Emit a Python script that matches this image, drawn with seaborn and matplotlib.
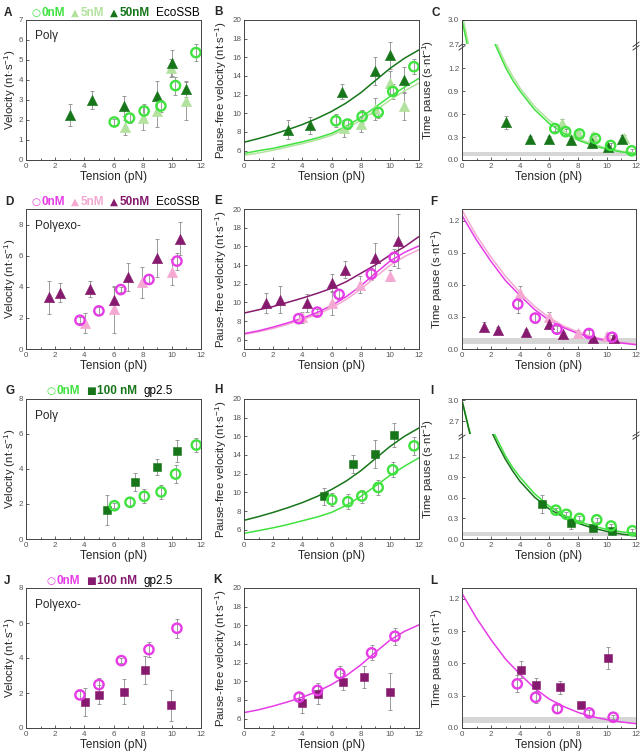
import matplotlib
matplotlib.use("Agg")
import matplotlib.pyplot as plt
import seaborn as sns
from matplotlib.ticker import MultipleLocator, FormatStrFormatter, FixedLocator
from matplotlib.offsetbox import TextArea, HPacker, AnnotationBbox

# ---------------- data ----------------
fit_x = [0, 1, 2, 3, 4, 5, 6, 7, 8, 9, 10, 11, 12]
dec_x = [0, 0.5, 1, 1.5, 2, 2.5, 3, 3.5, 4, 5, 6, 7, 8, 9, 10, 11, 12]

# A: Pol gamma velocity with EcoSSB
A_x0 = [6.05, 7.1, 8.1, 9.25, 10.25, 11.65]
A_y0 = [1.9, 2.1, 2.45, 2.7, 3.72, 5.37]
A_e0 = [0.15, 0.25, 0.35, 0.3, 0.45, 0.42]
A_x5 = [6.8, 8.0, 9.0, 9.95, 11.0]
A_y5 = [1.63, 2.12, 2.45, 4.58, 2.95]
A_e5 = [0.38, 0.6, 0.8, 0.45, 0.95]
A_x50 = [3.0, 4.55, 6.75, 9.0, 10.0, 11.0]
A_y50 = [2.25, 3.0, 2.7, 3.2, 4.83, 3.53]
A_e50 = [0.55, 0.45, 0.5, 0.75, 0.65, 0.4]

# B: pause-free velocity
B_x0 = [6.3, 7.1, 8.1, 9.2, 10.2, 11.65]
B_y0 = [9.2, 8.85, 9.65, 10.1, 12.35, 15.0]
B_e0 = [0.7, 0.5, 0.7, 0.6, 0.8, 0.8]
B_x5 = [6.85, 8.0, 9.0, 10.0, 11.0]
B_y5 = [8.4, 8.85, 10.45, 13.3, 10.8]
B_e5 = [0.9, 0.9, 1.2, 1.2, 1.5]
B_x50 = [3.0, 4.5, 6.7, 8.95, 10.0, 11.0]
B_y50 = [8.25, 8.7, 12.3, 14.5, 16.2, 13.6]
B_e50 = [1.0, 0.9, 0.8, 1.5, 1.4, 1.4]
B_fit0 = [5.7, 6.0, 6.25, 6.6, 6.95, 7.35, 7.85, 8.6, 9.55, 10.65, 11.8, 12.8, 13.75]
B_fit5 = [5.5, 5.75, 6.05, 6.4, 6.75, 7.15, 7.65, 8.35, 9.25, 10.3, 11.4, 12.4, 13.25]
B_fit50 = [6.9, 7.3, 7.75, 8.25, 8.8, 9.45, 10.2, 11.1, 12.2, 13.5, 14.8, 15.9, 16.8]

# C: time pause
C_x0 = [6.4, 7.15, 8.1, 9.2, 10.25, 11.7]
C_y0 = [0.41, 0.37, 0.34, 0.28, 0.19, 0.12]
C_e0 = [0.03, 0.03, 0.03, 0.03, 0.03, 0.02]
C_x5 = [6.9, 8.0, 9.05, 10.05, 11.2]
C_y5 = [0.48, 0.35, 0.31, 0.17, 0.29]
C_e5 = [0.05, 0.04, 0.04, 0.03, 0.04]
C_x50 = [3.0, 4.7, 6.0, 7.5, 9.0, 10.05, 11.05]
C_y50 = [0.49, 0.28, 0.28, 0.26, 0.22, 0.17, 0.27]
C_e50 = [0.09, 0.03, 0.03, 0.03, 0.03, 0.03, 0.05]
C_fit0 = [3.0, 2.58, 2.21, 1.9, 1.63, 1.42, 1.21, 1.04, 0.9, 0.66, 0.48, 0.35, 0.26, 0.19, 0.14, 0.105, 0.08]
C_fit5 = [3.08, 2.66, 2.28, 1.96, 1.69, 1.47, 1.26, 1.09, 0.94, 0.70, 0.52, 0.38, 0.28, 0.21, 0.155, 0.115, 0.09]

# D: Pol gamma exo- velocity with EcoSSB
D_x0 = [3.7, 5.0, 6.5, 8.43, 10.35]
D_y0 = [1.85, 2.45, 3.82, 4.47, 5.65]
D_e0 = [0.2, 0.25, 0.15, 0.3, 0.55]
D_x5 = [4.05, 6.0, 7.93, 10.0]
D_y5 = [1.66, 2.56, 4.3, 4.95]
D_e5 = [0.65, 1.5, 1.0, 0.85]
D_x50 = [1.55, 2.33, 4.39, 6.03, 7.02, 8.98, 10.54]
D_y50 = [3.33, 3.63, 3.87, 3.16, 4.6, 5.85, 7.1]
D_e50 = [1.05, 0.6, 0.5, 0.85, 0.9, 1.2, 1.05]

# E: pause-free velocity exo-
E_x0 = [3.75, 5.02, 6.52, 8.73, 10.3]
E_y0 = [8.25, 8.95, 10.85, 13.03, 14.82]
E_e0 = [0.5, 0.3, 0.6, 0.6, 0.9]
E_x5 = [3.98, 6.0, 7.95, 10.0]
E_y5 = [8.39, 9.92, 11.88, 12.87]
E_e5 = [0.6, 1.3, 0.9, 0.6]
E_x50 = [1.49, 2.45, 4.3, 6.0, 6.94, 9.0, 10.53]
E_y50 = [9.92, 10.27, 9.92, 12.06, 13.48, 14.73, 16.58]
E_e50 = [1.1, 1.45, 1.0, 1.0, 0.9, 1.6, 2.9]
E_fit0 = [6.65, 6.95, 7.35, 7.8, 8.3, 8.9, 9.65, 10.6, 11.75, 13.1, 14.4, 15.35, 16.05]
E_fit5 = [6.55, 6.85, 7.2, 7.65, 8.15, 8.7, 9.4, 10.3, 11.4, 12.7, 13.95, 14.9, 15.65]
E_fit50 = [8.85, 9.2, 9.55, 10.0, 10.45, 10.95, 11.5, 12.2, 13.1, 14.0, 15.05, 15.95, 17.05]

# F: time pause exo-
F_x0 = [3.85, 5.05, 6.55, 8.75, 10.35]
F_y0 = [0.42, 0.29, 0.185, 0.145, 0.11]
F_e0 = [0.08, 0.05, 0.03, 0.03, 0.02]
F_x5 = [4.0, 6.0, 8.0, 10.0]
F_y5 = [0.52, 0.30, 0.15, 0.12]
F_e5 = [0.07, 0.05, 0.03, 0.03]
F_x50 = [1.55, 2.5, 4.4, 6.0, 7.0, 9.05, 10.5]
F_y50 = [0.21, 0.18, 0.16, 0.23, 0.14, 0.10, 0.10]
F_e50 = [0.04, 0.03, 0.03, 0.04, 0.02, 0.02, 0.02]
F_fit0 = [1.25, 1.02, 0.82, 0.64, 0.5, 0.37, 0.27, 0.2, 0.145, 0.105, 0.077, 0.056, 0.04]
F_fit5 = [1.3, 1.06, 0.86, 0.68, 0.53, 0.40, 0.295, 0.215, 0.16, 0.115, 0.085, 0.062, 0.045]

# G: Pol gamma velocity with gp2.5
G_x0 = [6.06, 7.13, 8.11, 9.26, 10.26, 11.68]
G_y0 = [1.9, 2.1, 2.44, 2.69, 3.71, 5.37]
G_e0 = [0.15, 0.25, 0.4, 0.4, 0.5, 0.42]
G_x100 = [5.58, 7.47, 9.0, 10.33]
G_y100 = [1.66, 3.28, 4.13, 5.03]
G_e100 = [0.87, 0.52, 0.45, 0.65]

# H: pause-free velocity with gp2.5
H_x0 = [6.02, 7.12, 8.08, 9.2, 10.19, 11.66]
H_y0 = [9.2, 8.99, 9.6, 10.52, 12.41, 14.98]
H_e0 = [0.7, 0.8, 0.7, 0.8, 0.8, 1.0]
H_x100 = [5.5, 7.44, 8.95, 10.28]
H_y100 = [9.56, 13.02, 14.16, 16.15]
H_e100 = [0.9, 1.0, 1.5, 1.3]
H_fit0 = [5.6, 5.9, 6.2, 6.55, 6.95, 7.35, 7.85, 8.6, 9.55, 10.65, 11.8, 12.8, 13.7]
H_fit100 = [7.0, 7.4, 7.85, 8.35, 8.9, 9.55, 10.3, 11.2, 12.3, 13.6, 14.9, 16.0, 16.9]

# I: time pause with gp2.5
I_x0 = [6.47, 7.2, 8.1, 9.29, 10.28, 11.75]
I_y0 = [0.42, 0.36, 0.30, 0.28, 0.19, 0.12]
I_e0 = [0.03, 0.03, 0.03, 0.03, 0.03, 0.02]
I_x100 = [5.53, 7.5, 9.06, 10.37]
I_y100 = [0.505, 0.23, 0.155, 0.117]
I_e100 = [0.13, 0.08, 0.03, 0.02]
I_fit0 = [3.0, 2.58, 2.21, 1.9, 1.63, 1.42, 1.21, 1.04, 0.9, 0.66, 0.48, 0.35, 0.26, 0.19, 0.14, 0.105, 0.08]
I_fit100 = [3.0, 2.56, 2.18, 1.86, 1.58, 1.36, 1.16, 0.99, 0.84, 0.61, 0.44, 0.32, 0.23, 0.16, 0.11, 0.07, 0.045]

# J: Pol gamma exo- velocity with gp2.5
J_x0 = [3.7, 5.0, 6.54, 8.43, 10.35]
J_y0 = [1.89, 2.48, 3.85, 4.48, 5.7]
J_e0 = [0.25, 0.4, 0.15, 0.45, 0.55]
J_x100 = [4.05, 5.0, 6.72, 8.16, 9.97]
J_y100 = [1.5, 1.9, 2.08, 3.31, 1.3]
J_e100 = [0.8, 0.55, 0.7, 0.8, 0.9]

# K: pause-free velocity exo- with gp2.5
K_x0 = [3.78, 5.04, 6.57, 8.75, 10.35]
K_y0 = [8.31, 9.03, 10.84, 13.05, 14.83]
K_e0 = [0.5, 0.6, 0.75, 0.8, 0.9]
K_x100 = [4.0, 5.04, 6.76, 8.22, 10.03]
K_y100 = [7.64, 8.67, 9.95, 10.45, 8.88]
K_e100 = [1.0, 1.1, 0.9, 1.2, 2.0]
K_fit0 = [6.65, 6.95, 7.35, 7.8, 8.3, 8.9, 9.65, 10.6, 11.75, 13.1, 14.4, 15.35, 16.05]

# L: time pause exo- with gp2.5
L_x0 = [3.81, 5.08, 6.58, 8.77, 10.43]
L_y0 = [0.41, 0.285, 0.18, 0.14, 0.10]
L_e0 = [0.08, 0.05, 0.03, 0.03, 0.02]
L_x100 = [4.06, 5.08, 6.74, 8.22, 10.09]
L_y100 = [0.54, 0.40, 0.38, 0.21, 0.65]
L_e100 = [0.08, 0.06, 0.06, 0.02, 0.1]
L_fit0 = [1.25, 1.02, 0.82, 0.64, 0.5, 0.37, 0.27, 0.2, 0.145, 0.105, 0.077, 0.056, 0.04]

band = (0.05, 0.105)

# ---------------- style ----------------
LIME = "#3fe23f"
PALE = "#b3e29f"
DKG = "#17761a"
MAG = "#e63ce6"
PINK = "#f5a8d2"
PUR = "#861a6e"
ECOL = "#8c8c8c"

sns.set_style("ticks")
plt.rcParams["font.family"] = ["Liberation Sans Narrow", "Liberation Sans", "DejaVu Sans"]
plt.rcParams["mathtext.fontset"] = "custom"
plt.rcParams["mathtext.rm"] = "Liberation Sans"
plt.rcParams["mathtext.it"] = "Liberation Sans:italic"
plt.rcParams["mathtext.bf"] = "Liberation Sans:bold"

W, H = 642, 756
fig = plt.figure(figsize=(W / 100, H / 100), dpi=100)

cols = [(26, 201), (244, 419), (462, 636)]
rows = [(20, 160), (209, 349), (399, 539), (588, 728)]

S_TRI, S_CIR, S_SQ = 55, 45, 40
LFS = 8.2


def rect(c, r):
    x0, x1 = cols[c]
    y0, y1 = rows[r]
    return [x0 / W, 1 - y1 / H, (x1 - x0) / W, (y1 - y0) / H]


def style(ax, ylim, yticks, fmt, xlabel=True):
    ax.set_xlim(0, 12)
    ax.xaxis.set_major_locator(MultipleLocator(2))
    ax.xaxis.set_minor_locator(MultipleLocator(1))
    ax.set_ylim(*ylim)
    ax.yaxis.set_major_locator(FixedLocator(yticks))
    ax.yaxis.set_major_formatter(FormatStrFormatter(fmt))
    ax.tick_params(which="both", direction="in", top=False, right=False,
                   labelsize=5.8, labelcolor="#555555", color="#444444",
                   pad=2, width=0.6)
    ax.tick_params(which="major", length=2.5)
    ax.tick_params(which="minor", length=1.3)
    for s in ax.spines.values():
        s.set_linewidth(0.7)
        s.set_color("#444444")
    if xlabel:
        ax.set_xlabel("Tension (pN)", fontsize=8.5, labelpad=1)
    else:
        ax.set_xlabel("")


def pts(ax, x, y, e, marker, color, s, open_=False):
    ax.errorbar(x, y, yerr=e, fmt="none", ecolor=ECOL, elinewidth=0.6,
                capsize=1.3, capthick=0.6, zorder=2)
    if open_:
        sns.scatterplot(x=x, y=y, ax=ax, marker=marker, s=s, facecolor="none",
                        edgecolor=color, linewidth=1.7, zorder=4)
    else:
        sns.scatterplot(x=x, y=y, ax=ax, marker=marker, s=s, color=color,
                        edgecolor=color, linewidth=0.4, zorder=3)


def fit(ax, x, y, color):
    sns.lineplot(x=x, y=y, ax=ax, color=color, linewidth=1.1, zorder=2.5)


def letter(px, py, t):
    fig.text(px / W, 1 - py / H, t, fontsize=8.5, fontweight="bold",
             family=["Liberation Sans", "DejaVu Sans"], va="center", ha="left")


def legend_row(px, py, pieces):
    groups = []
    for sym, txt, c, w in pieces:
        items = []
        if sym:
            items.append(TextArea(sym, textprops=dict(color=c, fontsize=7.5,
                                                      family="DejaVu Sans")))
        items.append(TextArea(txt, textprops=dict(color=c, fontsize=8.5, fontweight=w,
                                                  family=["Liberation Sans", "DejaVu Sans"])))
        groups.append(HPacker(children=items, align="baseline", pad=0, sep=1))
    hp = HPacker(children=groups, align="baseline", pad=0, sep=4.5)
    ab = AnnotationBbox(hp, (px, H - py), xycoords="figure pixels",
                        box_alignment=(0, 0.5), frameon=False, annotation_clip=False)
    fig.add_artist(ab)


VEL = "Velocity (nt·s$^{-1}$)"
PFV = "Pause-free velocity (nt·s$^{-1}$)"
TP = "Time pause (s·nt$^{-1}$)"


def ylab(ax, t, pad=2):
    ax.set_ylabel(t, fontsize=LFS, labelpad=pad)


def broken(c, r, frac_up, up_lim, low_lim):
    l, b, w, h = rect(c, r)
    hu = h * frac_up
    ax_low = fig.add_axes([l, b, w, h - hu])
    ax_up = fig.add_axes([l, b + h - hu, w, hu])
    style(ax_low, low_lim, [0, 0.3, 0.6, 0.9, 1.2], "%.1f")
    style(ax_up, up_lim, [2.7, 3.0], "%.1f", xlabel=False)
    ax_up.spines["bottom"].set_visible(False)
    ax_low.spines["top"].set_visible(False)
    ax_up.tick_params(which="both", bottom=False, labelbottom=False)
    ax_up.set_xticks([])
    d = 0.018
    for xx in (0, 1):
        ax_low.plot([xx - d, xx + d], [1 - 0.02, 1 + 0.02], transform=ax_low.transAxes,
                    color="#444444", lw=0.7, clip_on=False)
        ax_low.plot([xx - d, xx + d], [1 - 0.05, 1 - 0.01], transform=ax_low.transAxes,
                    color="#444444", lw=0.7, clip_on=False)
    ax_low.axhspan(band[0], band[1], color="#d6d6d6", lw=0, zorder=0)
    ylab(ax_low, TP)
    frac_mid = (h / 2) / (h - hu)
    ax_low.yaxis.set_label_coords(-0.15, frac_mid)
    return ax_up, ax_low


# ---------------- Row 1 ----------------
ax = fig.add_axes(rect(0, 0))
pts(ax, A_x5, A_y5, A_e5, "^", PALE, S_TRI)
pts(ax, A_x50, A_y50, A_e50, "^", DKG, S_TRI)
pts(ax, A_x0, A_y0, A_e0, "o", LIME, S_CIR, open_=True)
style(ax, (0, 7), [0, 1, 2, 3, 4, 5, 6, 7], "%d")
ylab(ax, VEL, pad=0.5)
ax.text(0.05, 0.885, "Polγ", transform=ax.transAxes, fontsize=8.5, va="center")

ax = fig.add_axes(rect(1, 0))
fit(ax, fit_x, B_fit5, PALE)
fit(ax, fit_x, B_fit0, LIME)
fit(ax, fit_x, B_fit50, DKG)
pts(ax, B_x5, B_y5, B_e5, "^", PALE, S_TRI)
pts(ax, B_x50, B_y50, B_e50, "^", DKG, S_TRI)
pts(ax, B_x0, B_y0, B_e0, "o", LIME, S_CIR, open_=True)
style(ax, (5, 20), [6, 8, 10, 12, 14, 16, 18, 20], "%d")
ylab(ax, PFV)

ax_up, ax_low = broken(2, 0, 0.174, (2.7, 3.0), (0, 1.51))
for a in (ax_up, ax_low):
    fit(a, dec_x, C_fit5, PALE)
    fit(a, dec_x, C_fit0, LIME)
    a.set_xlim(0, 12)
pts(ax_low, C_x5, C_y5, C_e5, "^", PALE, S_TRI)
pts(ax_low, C_x50, C_y50, C_e50, "^", DKG, S_TRI)
pts(ax_low, C_x0, C_y0, C_e0, "o", LIME, S_CIR, open_=True)
ax_up.set_ylabel("")
ax_low.set_xlabel("Tension (pN)", fontsize=8.5, labelpad=1)

# ---------------- Row 2 ----------------
ax = fig.add_axes(rect(0, 1))
pts(ax, D_x5, D_y5, D_e5, "^", PINK, S_TRI)
pts(ax, D_x50, D_y50, D_e50, "^", PUR, S_TRI)
pts(ax, D_x0, D_y0, D_e0, "o", MAG, S_CIR, open_=True)
style(ax, (0, 9), [0, 2, 4, 6, 8], "%d")
ylab(ax, VEL, pad=0.5)
ax.text(0.05, 0.88, "Polγexo-", transform=ax.transAxes, fontsize=8.5, va="center")

ax = fig.add_axes(rect(1, 1))
fit(ax, fit_x, E_fit5, PINK)
fit(ax, fit_x, E_fit0, MAG)
fit(ax, fit_x, E_fit50, PUR)
pts(ax, E_x5, E_y5, E_e5, "^", PINK, S_TRI)
pts(ax, E_x50, E_y50, E_e50, "^", PUR, S_TRI)
pts(ax, E_x0, E_y0, E_e0, "o", MAG, S_CIR, open_=True)
style(ax, (5, 20), [6, 8, 10, 12, 14, 16, 18, 20], "%d")
ylab(ax, PFV)

ax = fig.add_axes(rect(2, 1))
ax.axhspan(band[0], band[1], color="#d6d6d6", lw=0, zorder=0)
fit(ax, fit_x, F_fit5, PINK)
fit(ax, fit_x, F_fit0, MAG)
pts(ax, F_x5, F_y5, F_e5, "^", PINK, S_TRI)
pts(ax, F_x50, F_y50, F_e50, "^", PUR, S_TRI)
pts(ax, F_x0, F_y0, F_e0, "o", MAG, S_CIR, open_=True)
style(ax, (0, 1.31), [0, 0.3, 0.6, 0.9, 1.2], "%.1f")
ylab(ax, TP)

# ---------------- Row 3 ----------------
ax = fig.add_axes(rect(0, 2))
pts(ax, G_x100, G_y100, G_e100, "s", DKG, S_SQ)
pts(ax, G_x0, G_y0, G_e0, "o", LIME, S_CIR, open_=True)
style(ax, (0, 8), [0, 2, 4, 6, 8], "%d")
ylab(ax, VEL, pad=0.5)
ax.text(0.05, 0.88, "Polγ", transform=ax.transAxes, fontsize=8.5, va="center")

ax = fig.add_axes(rect(1, 2))
fit(ax, fit_x, H_fit0, LIME)
fit(ax, fit_x, H_fit100, DKG)
pts(ax, H_x100, H_y100, H_e100, "s", DKG, S_SQ)
pts(ax, H_x0, H_y0, H_e0, "o", LIME, S_CIR, open_=True)
style(ax, (5, 20), [6, 8, 10, 12, 14, 16, 18, 20], "%d")
ylab(ax, PFV)

ax_up, ax_low = broken(2, 2, 0.25, (2.52, 3.02), (0, 1.53))
for a in (ax_up, ax_low):
    fit(a, dec_x, I_fit0, LIME)
    fit(a, dec_x, I_fit100, DKG)
    a.set_xlim(0, 12)
pts(ax_low, I_x100, I_y100, I_e100, "s", DKG, S_SQ)
pts(ax_low, I_x0, I_y0, I_e0, "o", LIME, S_CIR, open_=True)
ax_up.set_ylabel("")
ax_low.set_xlabel("Tension (pN)", fontsize=8.5, labelpad=1)

# ---------------- Row 4 ----------------
ax = fig.add_axes(rect(0, 3))
pts(ax, J_x100, J_y100, J_e100, "s", PUR, S_SQ)
pts(ax, J_x0, J_y0, J_e0, "o", MAG, S_CIR, open_=True)
style(ax, (0, 8), [0, 2, 4, 6, 8], "%d")
ylab(ax, VEL, pad=0.5)
ax.text(0.05, 0.88, "Polγexo-", transform=ax.transAxes, fontsize=8.5, va="center")

ax = fig.add_axes(rect(1, 3))
fit(ax, fit_x, K_fit0, MAG)
pts(ax, K_x100, K_y100, K_e100, "s", PUR, S_SQ)
pts(ax, K_x0, K_y0, K_e0, "o", MAG, S_CIR, open_=True)
style(ax, (5, 20), [6, 8, 10, 12, 14, 16, 18, 20], "%d")
ylab(ax, PFV)

ax = fig.add_axes(rect(2, 3))
ax.axhspan(band[0], band[1], color="#d6d6d6", lw=0, zorder=0)
fit(ax, fit_x, L_fit0, MAG)
pts(ax, L_x100, L_y100, L_e100, "s", PUR, S_SQ)
pts(ax, L_x0, L_y0, L_e0, "o", MAG, S_CIR, open_=True)
style(ax, (0, 1.3), [0, 0.3, 0.6, 0.9, 1.2], "%.1f")
ylab(ax, TP)

# ---------------- letters & legends ----------------
for (px, py, t) in [(4, 13, "A"), (214, 12, "B"), (431, 13, "C"),
                    (5, 202, "D"), (214, 201, "E"), (430, 202, "F"),
                    (5, 391, "G"), (214, 390, "H"), (430, 391, "I"),
                    (4, 581, "J"), (213, 580, "K"), (430, 581, "L")]:
    letter(px, py, t)

legend_row(31, 13, [("○", "0nM", LIME, "bold"), ("▲", "5nM", PALE, "bold"),
                    ("▲", "50nM", DKG, "bold"), ("", "EcoSSB", "black", "normal")])
legend_row(31, 202, [("○", "0nM", MAG, "bold"), ("▲", "5nM", PINK, "bold"),
                     ("▲", "50nM", PUR, "bold"), ("", "EcoSSB", "black", "normal")])
legend_row(46, 391, [("○", "0nM", LIME, "bold"), ("■", "100 nM", DKG, "bold"),
                     ("", "gp2.5", "black", "normal")])
legend_row(46, 581, [("○", "0nM", MAG, "bold"), ("■", "100 nM", PUR, "bold"),
                     ("", "gp2.5", "black", "normal")])

fig.savefig("out.png", dpi=100)
